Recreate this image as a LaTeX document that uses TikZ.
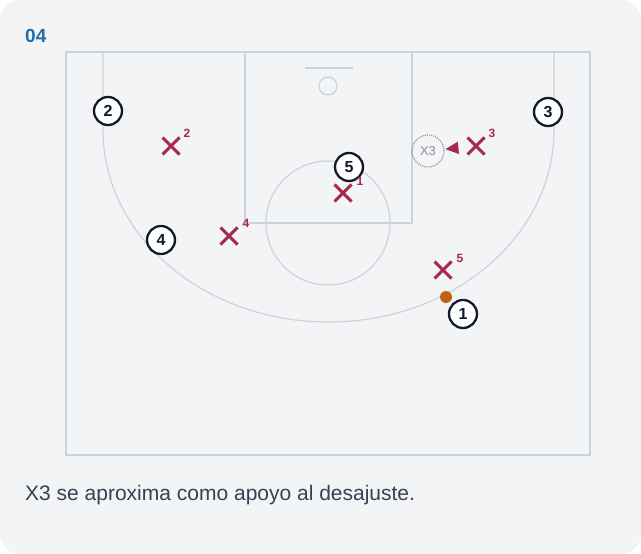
\documentclass[tikz,border=0pt]{standalone}
\usepackage{fontspec}
\setmainfont{Liberation Sans}
\usetikzlibrary{arrows.meta}
\definecolor{bg}{HTML}{F3F4F6}
\definecolor{court}{HTML}{CDD3DA}
\definecolor{crim}{HTML}{A52A50}
\definecolor{ttl}{HTML}{1F6FA8}
\definecolor{ink}{HTML}{111827}
\definecolor{ballc}{HTML}{C2610F}
\definecolor{ghostc}{HTML}{8A9099}
\definecolor{cap}{HTML}{374151}
\tikzset{
  courtline/.style={draw=court, line width=1.2pt},
  player/.style={circle, draw=ink, line width=2.3pt, fill=white, minimum size=28pt, inner sep=0pt, font=\fontsize{16}{16}\selectfont\bfseries, text=ink},
  defx/.style={minimum size=21pt, inner sep=0pt, path picture={
      \draw[crim, line width=2.9pt] ([shift={(2pt,-2pt)}]path picture bounding box.north west) -- ([shift={(-2pt,2pt)}]path picture bounding box.south east);
      \draw[crim, line width=2.9pt] ([shift={(2pt,2pt)}]path picture bounding box.south west) -- ([shift={(-2pt,-2pt)}]path picture bounding box.north east);}},
  supnum/.style={font=\fontsize{12}{12}\selectfont\bfseries, text=crim, inner sep=0pt},
  ghost/.style={circle, draw=ghostc, densely dotted, line width=1.1pt, minimum size=32pt, inner sep=0pt, font=\fontsize{13}{13}\selectfont, text=ghostc},
}
\begin{document}
\begin{tikzpicture}[x=1pt, y=-1pt]
\useasboundingbox (0,0) rectangle (641,554);
\fill[white] (0,0) rectangle (641,554);
\fill[bg, draw=bg!85!black!40] (0.5,0.5) [rounded corners=20pt] rectangle (640.5,553.5);
% title
\node[anchor=west, font=\fontsize{19}{19}\selectfont\bfseries, text=ttl, inner sep=0pt] (title) at (25,36) {04};
% court
\draw[courtline] (66,52) rectangle (590,455);
\draw[courtline] (245,52) rectangle (412,223);
\draw[courtline] (328,223) circle[radius=62];
\draw[courtline] (305,68) -- (353,68);
\draw[courtline] (328,86) circle[radius=9];
\draw[courtline] (103,52) -- (103,130) arc[start angle=180, end angle=0, x radius=225.5, y radius=192] -- (554,52);
% ghost and defenders
\node[ghost] (g3) at (428,151) {X3};
\node[defx] (x2) at (171,146) {};
\node[supnum] (s2) at (187,133) {2};
\node[defx] (x3) at (476,146) {};
\node[supnum] (s3) at (492,133) {3};
\node[defx] (x4) at (229,236) {};
\node[supnum] (s4) at (246,223) {4};
\node[defx] (x5) at (443,270) {};
\node[supnum] (s5) at (460,258) {5};
% players
\node[player] (p5) at (349,167) {5};
\node[defx] (x1) at (343,193) {};
\node[supnum] (s1) at (360,181) {1};
\node[player] (p2) at (108,111) {2};
\node[player] (p3) at (548,112) {3};
\node[player] (p4) at (161,240) {4};
\node[player] (p1) at (463,314) {1};
% ball
\node[circle, fill=ballc, minimum size=12pt, inner sep=0pt] (ball) at (446,297) {};
% arrow
\draw[crim, line width=1.5pt, -{Triangle[length=13pt, width=12pt]}, shorten <=8pt, shorten >=1pt] (x3) -- (g3);
% caption
\node[anchor=base west, font=\fontsize{21}{21}\selectfont, text=cap, inner sep=0pt] (caption) at (25,500) {X3 se aproxima como apoyo al desajuste.};
\end{tikzpicture}
\end{document}
